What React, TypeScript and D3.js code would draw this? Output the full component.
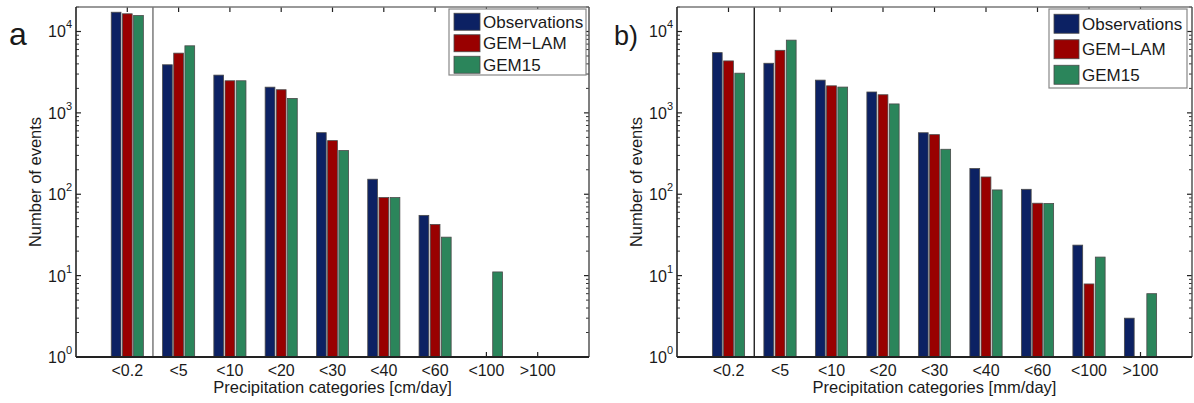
import * as d3 from "d3";

const categories = ["<0.2", "<5", "<10", "<20", "<30", "<40", "<60", "<100", ">100"];
const seriesNames = ["Observations", "GEM\u2212LAM", "GEM15"];
const seriesColors = ["#0c2163", "#990000", "#2b855b"];

// panel a: cm/day (null = no bar)
const cmObs = [17250, 3900, 2910, 2070, 571, 153, 55, null, null];
const cmLam = [16500, 5420, 2480, 1925, 456, 91, 42.5, null, null];
const cmG15 = [15700, 6670, 2480, 1505, 344, 91, 29.7, 11.1, null];

// panel b: mm/day
const mmObs = [5500, 4070, 2525, 1805, 570, 207, 115, 23.7, 3];
const mmLam = [4350, 5870, 2150, 1670, 540, 163, 77.6, 7.9, null];
const mmG15 = [3075, 7830, 2075, 1288, 357, 113, 77, 16.9, 6];

const yTickValues = [1, 10, 100, 1000, 10000];
const yTickExp = ["0", "1", "2", "3", "4"];

const FONT = "'Liberation Sans', Arial, Helvetica, sans-serif";
const TXT = "#1a1a1a";

type PanelProps = {
  x0: number;
  x1: number;
  series: (number | null)[][];
  xLabel: string;
  tag: string;
  tagSize: number;
  tagX: number;
  sepColor: string;
  legend: { x: number; y: number; w: number; h: number; row: number; sw: number; sh: number };
};

const Panel = ({ x0, x1, series, xLabel, tag, tagSize, tagX, sepColor, legend }: PanelProps) => {
  const yTop = 7;
  const yBottom = 357;
  const x = d3.scaleLinear().domain([0, categories.length + 1]).range([x0, x1]);
  const y = d3.scaleLog().domain([1, 20000]).range([yBottom, yTop]);
  const unit = x(1) - x(0);
  const offsets = [-0.218, 0, 0.218];
  const barW = 0.19 * unit;

  // minor ticks 2..9 per decade
  const minor: number[] = [];
  for (let k = 0; k <= 4; k++) {
    for (let m = 2; m <= 9; m++) {
      const v = m * Math.pow(10, k);
      if (v <= 20000) minor.push(v);
    }
  }

  return (
    <g fontFamily={FONT} fill={TXT}>
      {/* category ticks, top and bottom */}
      {categories.map((c, i) => (
        <g key={c}>
          <line x1={x(i + 1)} x2={x(i + 1)} y1={yTop} y2={yTop + 5} stroke="#222" strokeWidth={1.2} />
          <line x1={x(i + 1)} x2={x(i + 1)} y1={yBottom} y2={yBottom - 5} stroke="#222" strokeWidth={1.2} />
        </g>
      ))}

      {/* y ticks both sides */}
      {yTickValues.map((v) => (
        <g key={v}>
          <line x1={x0} x2={x0 + 5} y1={y(v)} y2={y(v)} stroke="#222" strokeWidth={1.2} />
          <line x1={x1} x2={x1 - 5} y1={y(v)} y2={y(v)} stroke="#222" strokeWidth={1.2} />
        </g>
      ))}
      {minor.map((v) => (
        <g key={"m" + v}>
          <line x1={x0} x2={x0 + 3} y1={y(v)} y2={y(v)} stroke="#333" strokeWidth={1} />
          <line x1={x1} x2={x1 - 3} y1={y(v)} y2={y(v)} stroke="#333" strokeWidth={1} />
        </g>
      ))}

      {/* separator between first and second category */}
      <line x1={x(1.5)} x2={x(1.5)} y1={yTop} y2={yBottom} stroke={sepColor} strokeWidth={1.3} />

      {/* bars */}
      {series.map((vals, s) =>
        vals.map((v, i) =>
          v == null ? null : (
            <rect
              key={s + "-" + i}
              x={x(i + 1 + offsets[s]) - barW / 2}
              y={y(v)}
              width={barW}
              height={yBottom - y(v)}
              fill={seriesColors[s]}
              stroke="#4a4a4a"
              strokeWidth={0.8}
            />
          )
        )
      )}

      {/* axes box */}
      <line x1={x0} x2={x1} y1={yTop} y2={yTop} stroke="#777" strokeWidth={1.5} />
      <line x1={x1} x2={x1} y1={yTop} y2={yBottom} stroke="#555" strokeWidth={1.5} />
      <line x1={x0} x2={x0} y1={yTop} y2={yBottom} stroke="#222" strokeWidth={1.6} />
      <line x1={x0} x2={x1} y1={yBottom} y2={yBottom} stroke="#222" strokeWidth={1.8} />

      {/* y tick labels */}
      {yTickValues.map((v, i) => (
        <text key={"yl" + v} x={x0 - 4} y={y(v) + 6} textAnchor="end" fontSize={16}>
          10
          <tspan dy={-9} fontSize={11}>
            {yTickExp[i]}
          </tspan>
        </text>
      ))}

      {/* x tick labels */}
      {categories.map((c, i) => (
        <text key={"xl" + c} x={x(i + 1)} y={376} textAnchor="middle" fontSize={16}>
          {c}
        </text>
      ))}

      <text x={(x0 + x1) / 2} y={393} textAnchor="middle" fontSize={16.5}>
        {xLabel}
      </text>
      <text
        transform={`translate(${x0 - 35},${(yTop + yBottom) / 2}) rotate(-90)`}
        textAnchor="middle"
        fontSize={16.5}
      >
        Number of events
      </text>

      <text x={tagX} y={45} fontSize={tagSize}>
        {tag}
      </text>

      {/* legend */}
      <rect x={legend.x} y={legend.y} width={legend.w} height={legend.h} fill="#fff" stroke="#888" strokeWidth={1.2} />
      {seriesNames.map((n, s) => {
        const cy = legend.y + legend.row * (s + 0.5) + 2;
        return (
          <g key={n}>
            <rect
              x={legend.x + 5}
              y={cy - legend.sh / 2}
              width={legend.sw}
              height={legend.sh}
              fill={seriesColors[s]}
              stroke="#4a4a4a"
              strokeWidth={0.8}
            />
            <text x={legend.x + legend.sw + 8} y={cy + 6} fontSize={17}>
              {n}
            </text>
          </g>
        );
      })}
    </g>
  );
};

export default function App() {
  return (
    <svg
      width={1194}
      height={403}
      style={{ position: "absolute", left: 0, top: 0, background: "#fff" }}
    >
      <rect width={1194} height={403} fill="#fff" />
      <Panel
        x0={76}
        x1={589}
        series={[cmObs, cmLam, cmG15]}
        xLabel="Precipitation categories [cm/day]"
        tag="a"
        tagSize={32}
        tagX={9}
        sepColor="#666"
        legend={{ x: 449, y: 9, w: 137, h: 66, row: 21.5, sw: 26, sh: 17 }}
      />
      <Panel
        x0={677}
        x1={1192}
        series={[mmObs, mmLam, mmG15]}
        xLabel="Precipitation categories [mm/day]"
        tag="b)"
        tagSize={27}
        tagX={614}
        sepColor="#111"
        legend={{ x: 1049, y: 9, w: 138, h: 79, row: 25.5, sw: 25, sh: 19 }}
      />
    </svg>
  );
}
